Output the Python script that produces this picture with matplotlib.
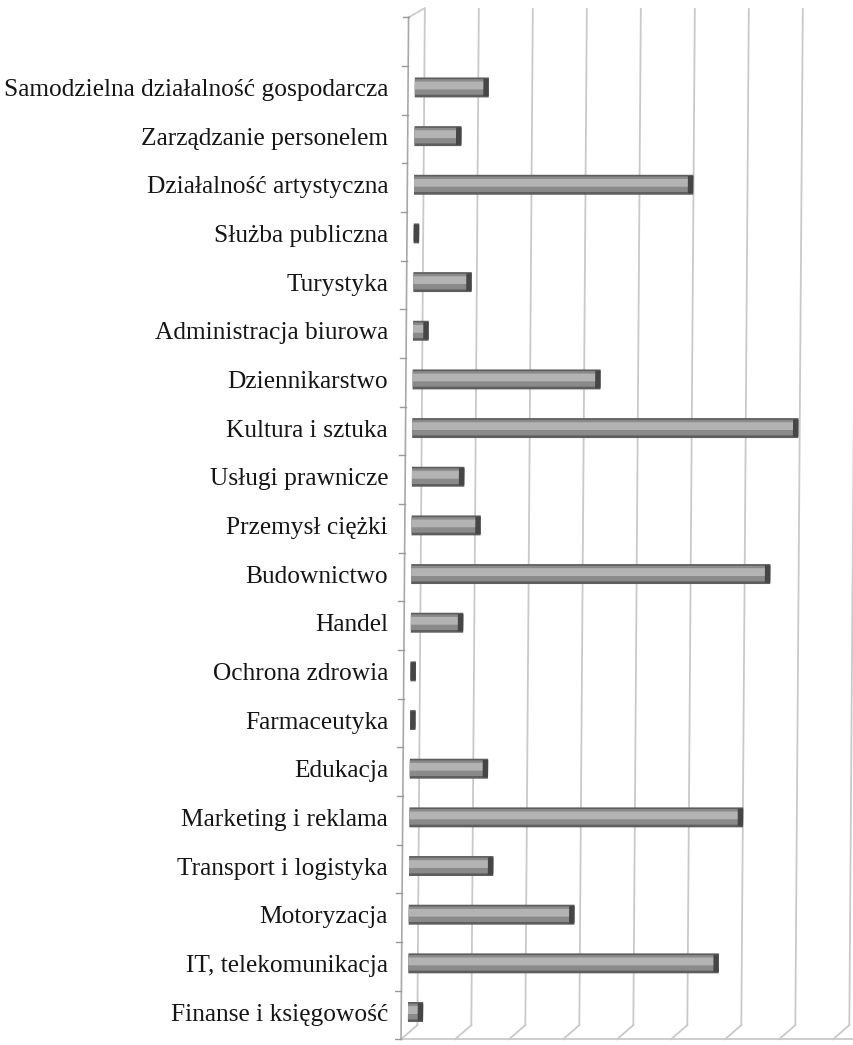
import matplotlib
matplotlib.use("Agg")
import matplotlib.pyplot as plt
import matplotlib.transforms as mtransforms
import numpy as np

# Share of respondents by sector (%), listed bottom to top
categories = [
    "Finanse i księgowość",
    "IT, telekomunikacja",
    "Motoryzacja",
    "Transport i logistyka",
    "Marketing i reklama",
    "Edukacja",
    "Farmaceutyka",
    "Ochrona zdrowia",
    "Handel",
    "Budownictwo",
    "Przemysł ciężki",
    "Usługi prawnicze",
    "Kultura i sztuka",
    "Dziennikarstwo",
    "Administracja biurowa",
    "Turystyka",
    "Służba publiczna",
    "Działalność artystyczna",
    "Zarządzanie personelem",
    "Samodzielna działalność gospodarcza",
]
shares = [0.56, 11.5, 6.14, 3.12, 12.36, 2.9, 0.2, 0.2, 1.94, 13.3,
          2.56, 1.94, 14.3, 6.96, 0.58, 2.16, 0.2, 10.34, 1.74, 2.74]
grid_values = [0, 2, 4, 6, 8, 10, 12, 14, 16]

W, H = 854, 1045
fig = plt.figure(figsize=(W / 100, H / 100), dpi=100)
ax = fig.add_axes([395 / W, 0, 459 / W, 1])

y = np.arange(len(categories))
vals = np.array(shares)

# light perspective lean shared by every element of the 3-D box
lean = 0.0133
skew = mtransforms.Affine2D(np.array([[1, lean, 0], [0, 1, 0], [0, 0, 1]])) + ax.transData

# geometry of the box planes (relative to the plane holding the bars)
back_dx, back_bottom, back_top = 0.35, -0.27, 20.63
front_dx, front_y0 = -0.25, -0.56
front_top = front_y0 + len(categories) + 1
grid_col = "#c9c9c9"

# back wall gridlines
for g in grid_values:
    ax.plot([g + back_dx, g + back_dx], [back_bottom, back_top], color=grid_col,
            lw=1.3, transform=skew, solid_capstyle="butt", zorder=1)
    # floor lines running to the front edge
    ax.plot([g + back_dx, g + front_dx], [back_bottom, front_y0], color=grid_col,
            lw=1.3, transform=skew, zorder=1)

# front floor edge and front vertical axis
ax.plot([front_dx, 20], [front_y0, front_y0], color=grid_col, lw=1.3, transform=skew, zorder=1)
ax.plot([front_dx, front_dx], [front_y0, front_top], color="#a8a8a8", lw=1.2, transform=skew, zorder=2)
ax.plot([front_dx, back_dx], [front_top, back_top], color=grid_col, lw=1.2, transform=skew, zorder=1)

# category tick marks on the front axis
for b in np.arange(front_y0, front_top + 0.01, 1.0):
    ax.plot([front_dx - 0.22, front_dx], [b, b], color="#9a9a9a", lw=1.0, transform=skew, zorder=2)

# cylinder-like bars built from shaded layers
ax.barh(y, vals, height=0.41, left=0, color="#5e5e5e", transform=skew, zorder=3)
ax.barh(y + 0.01, vals, height=0.32, left=0, color="#8a8a8a", transform=skew, zorder=4)
ax.barh(y + 0.04, vals, height=0.16, left=0, color="#b3b3b3", transform=skew, zorder=5)
cap = np.minimum(0.2, vals)
ax.barh(y, cap, height=0.36, left=vals - cap, color="#464646", transform=skew, zorder=6)

ax.set_xlim(-0.481, 16.52)
ax.set_ylim(-0.678, 20.797)

ax.set_yticks(y)
ax.set_yticklabels(categories, family="Liberation Serif", fontsize=18.3, color="#151515")
ax.tick_params(axis="y", length=0, pad=5)
ax.set_xticks([])
for s in ax.spines.values():
    s.set_visible(False)
ax.patch.set_alpha(0)

fig.savefig("out.png", dpi=100, facecolor="white")
